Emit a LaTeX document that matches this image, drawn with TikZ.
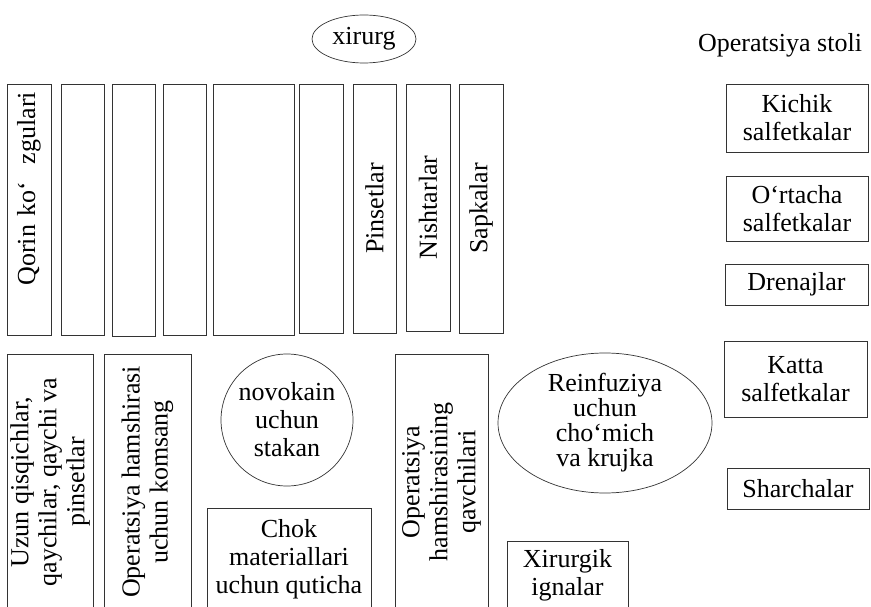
\documentclass[tikz,border=0pt]{standalone}
\usepackage{fontspec}
\setmainfont{Liberation Serif}
\usepackage{tikz}
\usetikzlibrary{shapes.geometric}

\begin{document}
\begin{tikzpicture}[x=1pt, y=-1pt, font=\fontsize{26}{28}\selectfont]
        \tikzstyle{item} = [rectangle, draw=black!80, line width=0.7pt, inner sep=1pt, align=center];
        \tikzstyle{upright} = [item, rotate=90];
        \tikzstyle{roundthing} = [ellipse, draw=black!80, line width=0.7pt, inner sep=0pt, align=center];

        \useasboundingbox (0,0) rectangle (871,607);
        \clip (0,0) rectangle (871,607);

        \node(xirurg) [roundthing, minimum width=104pt, minimum height=48pt] at (364, 39) {xirurg};
        \node(stol) [anchor=base] at (780, 52) {Operatsiya stoli};

        % upper row of tables
        \node(qorin) [upright, minimum height=44pt, text width=235pt, inner xsep=8pt, align=right] at (29, 209.5) {Qorin ko‘~~zgulari};
        \node(bosh1) [upright, minimum width=251pt, minimum height=43pt] at (82.5, 209.5) {};
        \node(bosh2) [upright, minimum width=252pt, minimum height=43pt] at (133.5, 210) {};
        \node(bosh3) [upright, minimum width=251pt, minimum height=43pt] at (184.5, 209.5) {};
        \node(bosh4) [upright, minimum width=251pt, minimum height=81pt] at (253.5, 209.5) {};
        \node(bosh5) [upright, minimum width=249pt, minimum height=44pt] at (321, 208.5) {};
        \node(pinset) [upright, minimum width=249pt, minimum height=43pt] at (374.5, 208.5) {Pinsetlar};
        \node(nishtar) [upright, minimum width=247pt, minimum height=44pt] at (428, 207.5) {Nishtarlar};
        \node(sapka) [upright, minimum width=249pt, minimum height=44pt] at (481, 208.5) {Sapkalar};

        % lower row
        \node(uzun) [upright, minimum width=256pt, minimum height=86pt, inner sep=0pt] at (50, 482) {Uzun qisqichlar,\\ qaychilar, qaychi va\\ pinsetlar};
        \node(komsang) [upright, minimum width=256pt, minimum height=87pt] at (147.5, 482) {Operatsiya hamshirasi\\ uchun komsang};
        \node(novokain) [circle, draw=black!80, line width=0.7pt, inner sep=0pt, align=center, minimum size=132pt] at (287, 420) {novokain\\ uchun\\ stakan};
        \node(chok) [item, minimum width=164pt, minimum height=102pt] at (289, 559) {Chok\\ materiallari\\ uchun quticha};
        \node(qavchi) [upright, minimum width=256pt, minimum height=93pt] at (441.5, 482) {Operatsiya\\ hamshirasining\\ qavchilari};
        \node(reinfuziya) [roundthing, minimum width=214pt, minimum height=140pt, inner sep=-4pt, font=\fontsize{26}{25}\selectfont] at (605, 423) {Reinfuziya\\ uchun\\ cho‘mich\\ va krujka};
        \node(ignalar) [item, minimum width=121pt, minimum height=69pt] at (567.5, 575.5) {Xirurgik\\ ignalar};

        % right column
        \node(kichik) [item, minimum width=142pt, minimum height=68pt] at (797, 118) {Kichik\\ salfetkalar};
        \node(ortacha) [item, minimum width=142pt, minimum height=65pt] at (797, 208.5) {O‘rtacha\\ salfetkalar};
        \node(drenaj) [item, minimum width=143pt, minimum height=41pt] at (796.5, 284.5) {Drenajlar};
        \node(katta) [item, minimum width=143pt, minimum height=76pt] at (795.5, 379) {Katta\\ salfetkalar};
        \node(sharcha) [item, minimum width=142pt, minimum height=41pt] at (798, 488.5) {Sharchalar};

    \end{tikzpicture}
\end{document}
